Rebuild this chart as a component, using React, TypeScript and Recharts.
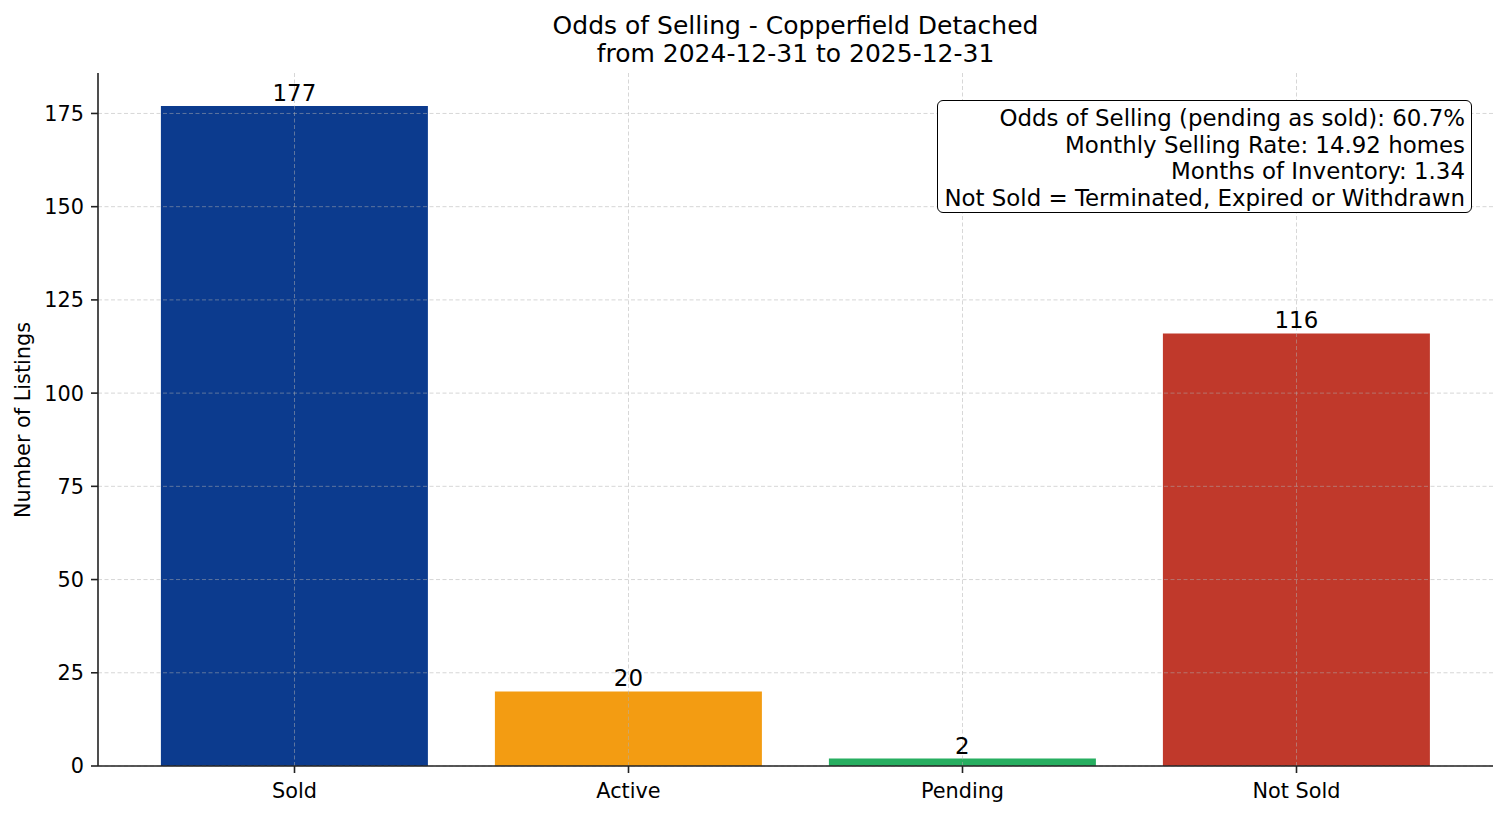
import { Bar, BarChart, CartesianGrid, Cell, LabelList, XAxis, YAxis } from "recharts";

const categories = ["Sold", "Active", "Pending", "Not Sold"];
const listingCounts = [177, 20, 2, 116];
const barColors = ["#0c3b8e", "#f39c12", "#27ae60", "#c0392b"];
const yTicks = [0, 25, 50, 75, 100, 125, 150, 175];
const statLines = [
  "Odds of Selling (pending as sold): 60.7%",
  "Monthly Selling Rate: 14.92 homes",
  "Months of Inventory: 1.34",
  "Not Sold = Terminated, Expired or Withdrawn",
];
const titleLines = ["Odds of Selling - Copperfield Detached", "from 2024-12-31 to 2025-12-31"];

const data = categories.map((name, i) => ({ name, count: listingCounts[i] }));

const FONT = "'DejaVu Sans', sans-serif";

export default function App() {
  return (
    <div style={{ position: "fixed", left: 0, top: 0, width: 1507, height: 816, background: "#fff", fontFamily: FONT }}>
      <div
        style={{
          position: "absolute",
          left: 0,
          width: 1591,
          top: 12,
          textAlign: "center",
          fontSize: 25,
          lineHeight: "28px",
          color: "#000",
        }}
      >
        {titleLines.map((t) => (
          <div key={t}>{t}</div>
        ))}
      </div>

      <div
        style={{
          position: "absolute",
          left: 23,
          top: 420,
          transform: "translate(-50%, -50%) rotate(-90deg)",
          whiteSpace: "nowrap",
          fontSize: 20.8,
          color: "#000",
        }}
      >
        Number of Listings
      </div>

      <BarChart
        width={1507}
        height={816}
        data={data}
        margin={{ top: 73, right: 14, left: 38, bottom: 20 }}
        barCategoryGap="10%"
      >
        <XAxis
          dataKey="name"
          height={30}
          padding={{ left: 29.5, right: 29.5 }}
          tickSize={7}
          tickMargin={10}
          tick={{ fontSize: 20.8, fill: "#000", fontFamily: FONT }}
          axisLine={{ stroke: "#222", strokeWidth: 1.6 }}
          tickLine={{ stroke: "#222", strokeWidth: 1.6 }}
        />
        <YAxis
          width={60}
          domain={[0, 185.85]}
          ticks={yTicks}
          tickSize={7}
          tickMargin={7}
          tick={{ fontSize: 20.8, fill: "#000", fontFamily: FONT }}
          axisLine={{ stroke: "#222", strokeWidth: 1.6 }}
          tickLine={{ stroke: "#222", strokeWidth: 1.6 }}
        />
        <Bar dataKey="count" isAnimationActive={false}>
          {data.map((d, i) => (
            <Cell key={d.name} fill={barColors[i]} />
          ))}
          <LabelList
            dataKey="count"
            position="top"
            offset={5}
            style={{ fontSize: 22.9, fill: "#000", fontFamily: FONT }}
          />
        </Bar>
        <CartesianGrid
          zIndex={350}
          syncWithTicks
          stroke="#b0b0b0"
          strokeOpacity={0.5}
          strokeWidth={1}
          strokeDasharray="4 2.5"
        />
      </BarChart>

      <div
        style={{
          position: "absolute",
          right: 35,
          top: 100,
          border: "1.8px solid #000",
          borderRadius: 6,
          padding: "4px 6px 1px 6px",
          background: "#fff",
          textAlign: "right",
          fontSize: 22.9,
          lineHeight: "26.6px",
          color: "#000",
          whiteSpace: "nowrap",
        }}
      >
        {statLines.map((t) => (
          <div key={t}>{t}</div>
        ))}
      </div>
    </div>
  );
}
